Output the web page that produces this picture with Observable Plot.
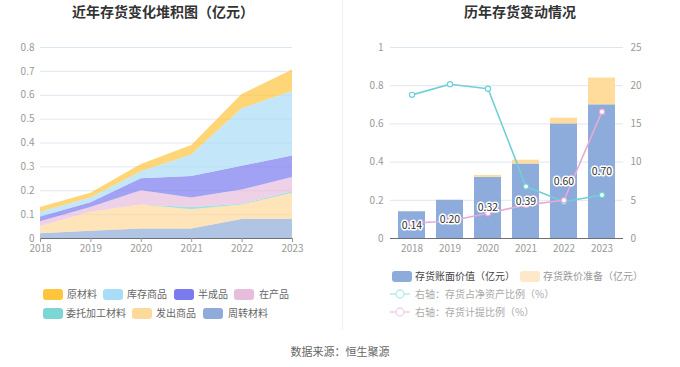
<!DOCTYPE html>
<html><head><meta charset="utf-8">
<script src="https://cdn.jsdelivr.net/npm/d3@7"></script>
<script src="https://cdn.jsdelivr.net/npm/@observablehq/plot@0.6"></script>
<style>
body{margin:0;background:#fff;font-family:"Noto Sans CJK SC","Noto Sans",sans-serif;}
#root{position:relative;width:680px;height:367px;overflow:hidden;background:#fff;}
.abs{position:absolute;}
.title{position:absolute;top:1px;line-height:20px;font-size:14px;font-weight:bold;color:#333;text-align:center;}
.lg{position:absolute;font-size:10px;color:#666;line-height:12px;white-space:nowrap;}
.sw{position:absolute;width:20px;height:11px;border-radius:3px;}
</style></head>
<body><div id="root"></div>
<script>
// ---------- data ----------
const years = [2018, 2019, 2020, 2021, 2022, 2023];
// stacked inventory (亿元), bottom to top
const stackSeries = ["周转材料", "发出商品", "委托加工材料", "在产品", "半成品", "库存商品", "原材料"];
const zhouzhuan = [0.02, 0.03, 0.04, 0.04, 0.08, 0.08];
const fachu     = [0.03, 0.08, 0.10, 0.08, 0.06, 0.11];
const weituo    = [0.00, 0.00, 0.00, 0.01, 0.003, 0.006];
const zaichan   = [0.02, 0.02, 0.06, 0.04, 0.06, 0.06];
const banchengpin = [0.02, 0.02, 0.05, 0.09, 0.10, 0.09];
const kucun     = [0.02, 0.02, 0.03, 0.09, 0.24, 0.27];
const yuancailiao = [0.02, 0.02, 0.03, 0.04, 0.06, 0.09];
const stackColors = ["#8fabd9", "#fdd99a", "#7dd6d6", "#e7bddc", "#7b7bf1", "#a9ddf7", "#ffc53d"];
// legend display order
const legendRow1 = ["原材料", "库存商品", "半成品", "在产品"];
const legendRow2 = ["委托加工材料", "发出商品", "周转材料"];

// right chart
const bookValue = [0.14, 0.20, 0.32, 0.39, 0.60, 0.70];
const provision = [0.00, 0.00, 0.01, 0.02, 0.03, 0.14];
const netAssetRatio = [18.8, 20.2, 19.6, 6.8, 4.8, 5.7];
const provisionRatio = [2.0, 2.3, 3.3, 4.4, 5.0, 16.6];
const barSeries = ["存货账面价值（亿元）", "存货跌价准备（亿元）"];
const barColors = ["#8dabdb", "#ffdc9c"];
const lineSeries = ["右轴：存货占净资产比例（%）", "右轴：存货计提比例（%）"];
const lineColors = ["#6fd0d6", "#e6aad8"];
const leftTicks = [0, 0.1, 0.2, 0.3, 0.4, 0.5, 0.6, 0.7, 0.8];
const rightTicksL = [0, 0.2, 0.4, 0.6, 0.8, 1];
const rightTicksR = [0, 5, 10, 15, 20, 25];

// ---------- build ----------
const root = document.getElementById("root");
const seriesArrays = [zhouzhuan, fachu, weituo, zaichan, banchengpin, kucun, yuancailiao];
const stackData = [];
stackSeries.forEach((s, i) => years.forEach((y, j) => stackData.push({year: y, type: s, value: seriesArrays[i][j]})));

const fmt = d => String(+d.toFixed(2));
const W = 340, H = 230;
function place(el, left, top) { el.style.position = "absolute"; el.style.left = left + "px"; el.style.top = top + "px"; root.appendChild(el); }
const baseStyle = {background: "transparent", fontSize: "10px", fontFamily: "'Noto Sans CJK SC', sans-serif", overflow: "visible"};

// left chart
const left = Plot.plot({
  width: W, height: H, marginLeft: 40, marginRight: 48, marginTop: 17, marginBottom: 22,
  style: baseStyle,
  x: {domain: [2018, 2023]},
  y: {domain: [0, 0.8]},
  color: {domain: stackSeries, range: stackColors},
  marks: [
    Plot.gridY(leftTicks, {stroke: "#e0e6f1", strokeOpacity: 1}),
    Plot.areaY(stackData, {x: "year", y: "value", fill: "type", fillOpacity: 0.7, order: stackSeries, curve: "linear"}),
    Plot.ruleY([0], {stroke: "#6e7079"}),
    Plot.axisY({ticks: leftTicks, tickSize: 0, tickPadding: 6, tickFormat: fmt, color: "#999", label: null}),
    Plot.axisX({ticks: years, tickSize: 4, tickPadding: 2, tickFormat: d => String(d), color: "#999", label: null})
  ]
});
place(left, 0, 30);

// right chart layers
const barData = [];
years.forEach((y, j) => { barData.push({year: y, type: barSeries[0], value: bookValue[j]}); barData.push({year: y, type: barSeries[1], value: provision[j]}); });
const xBand = {type: "band", domain: years, paddingInner: 0.3, paddingOuter: 0.15};
const common = {width: W, height: H, marginLeft: 50, marginRight: 57, marginTop: 17, marginBottom: 22, style: baseStyle};

const r1 = Plot.plot({
  ...common,
  x: xBand,
  y: {domain: [0, 1]},
  color: {domain: barSeries, range: barColors},
  marks: [
    Plot.gridY(rightTicksL, {stroke: "#e0e6f1", strokeOpacity: 1}),
    Plot.barY(barData, {x: "year", y: "value", fill: "type", order: barSeries}),
    Plot.ruleY([0], {stroke: "#6e7079"}),
    Plot.axisY({ticks: rightTicksL, tickSize: 0, tickPadding: 7, tickFormat: fmt, color: "#999", label: null}),
    Plot.axisX({tickSize: 0, tickPadding: 6, tickFormat: d => String(d), color: "#999", label: null})
  ]
});
place(r1, 340, 30);

const lineData = [];
years.forEach((y, j) => { lineData.push({year: y, type: lineSeries[0], value: netAssetRatio[j]}); lineData.push({year: y, type: lineSeries[1], value: provisionRatio[j]}); });
const r2 = Plot.plot({
  ...common,
  x: {...xBand, axis: null},
  y: {domain: [0, 25], axis: null},
  color: {domain: lineSeries, range: lineColors},
  marks: [
    Plot.line(lineData, {x: "year", y: "value", stroke: "type", z: "type", strokeWidth: 1.6}),
    Plot.dot(lineData, {x: "year", y: "value", stroke: "type", fill: "white", r: 2.6, strokeWidth: 1.2}),
    Plot.axisY({anchor: "right", ticks: rightTicksR, tickSize: 0, tickPadding: 7, color: "#999", label: null})
  ]
});
place(r2, 340, 30);

const labelData = years.map((y, j) => ({year: y, value: bookValue[j]}));
const r3 = Plot.plot({
  ...common,
  x: {...xBand, axis: null},
  y: {domain: [0, 1], axis: null},
  marks: [
    Plot.text(labelData, {x: "year", y: d => d.value / 2, text: d => d.value.toFixed(2), fill: "#333", stroke: "white", strokeWidth: 3, fontSize: 10.5})
  ]
});
place(r3, 340, 30);

// titles, divider, footer
function div(cls, text, css) { const d = document.createElement("div"); d.className = cls; d.textContent = text; Object.assign(d.style, css); root.appendChild(d); return d; }
div("title", "近年存货变化堆积图（亿元）", {left: "0px", width: "326px"});
div("title", "历年存货变动情况", {left: "420px", width: "200px"});
div("abs", "", {left: "342px", top: "0px", width: "1px", height: "330px", background: "#f0f0f0"});
div("abs", "数据来源：恒生聚源", {left: "240px", width: "200px", top: "343px", textAlign: "center", fontSize: "11px", color: "#666", lineHeight: "16px"});

// left legend
const colorOf = Object.fromEntries(stackSeries.map((s, i) => [s, stackColors[i]]));
const row1X = [[43, 67], [103, 127], [174, 198], [234, 259]];
const row2X = [[43, 66], [132, 156], [203, 228]];
function swatch(x, yc, color) { div("sw", "", {left: x + "px", top: (yc - 5.5) + "px", background: color}); }
function label(x, yc, text, color) { div("lg", text, {left: x + "px", top: (yc - 6) + "px", color}); }
legendRow1.forEach((s, i) => { swatch(row1X[i][0], 294, colorOf[s]); label(row1X[i][1], 294, s, "#666"); });
legendRow2.forEach((s, i) => { swatch(row2X[i][0], 313, colorOf[s]); label(row2X[i][1], 313, s, "#666"); });

// right legend
swatch(392, 276, barColors[0]); label(415, 276, barSeries[0], "#444");
swatch(520, 276, "#fde9c9"); label(543, 276, barSeries[1], "#999");
function lineIcon(yc, color) {
  const ns = "http://www.w3.org/2000/svg";
  const s = document.createElementNS(ns, "svg");
  s.setAttribute("width", 22); s.setAttribute("height", 12);
  s.style.position = "absolute"; s.style.left = "389px"; s.style.top = (yc - 6) + "px";
  const l = document.createElementNS(ns, "line");
  l.setAttribute("x1", 1); l.setAttribute("x2", 21); l.setAttribute("y1", 6); l.setAttribute("y2", 6);
  l.setAttribute("stroke", color); l.setAttribute("stroke-width", 1.5);
  const c = document.createElementNS(ns, "circle");
  c.setAttribute("cx", 11); c.setAttribute("cy", 6); c.setAttribute("r", 4);
  c.setAttribute("fill", "white"); c.setAttribute("stroke", color); c.setAttribute("stroke-width", 1.3);
  s.appendChild(l); s.appendChild(c); root.appendChild(s);
}
lineIcon(294, "#b5e9ec"); label(415, 294, lineSeries[0], "#aaa");
lineIcon(312, "#f1d1ea"); label(415, 312, lineSeries[1], "#aaa");
</script></body></html>
